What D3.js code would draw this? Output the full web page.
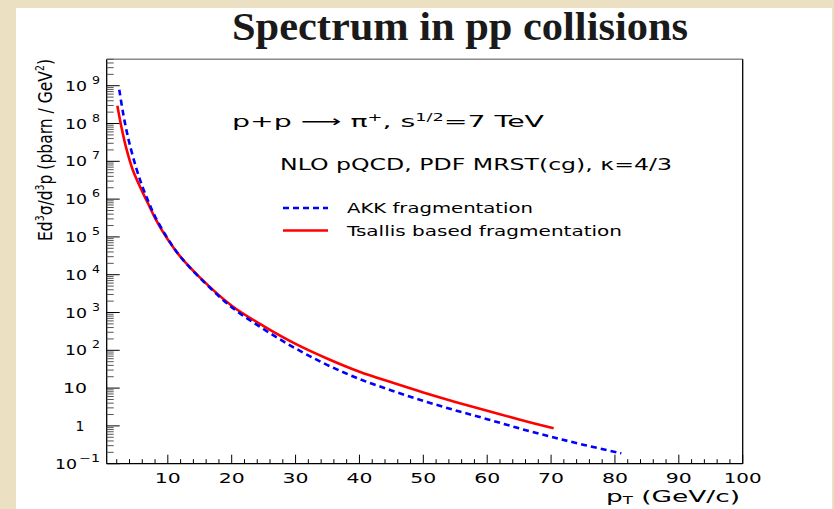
<!DOCTYPE html>
<html><head><meta charset="utf-8">
<script src="https://cdn.jsdelivr.net/npm/d3@7/dist/d3.min.js"></script>
<style>
html,body{margin:0;padding:0;background:#ebe1c2;}
svg{display:block;}
</style></head>
<body>
<script>
// ---- data ----
const pT_AKK = [2.4, 3, 3.5, 4, 5, 6, 7, 8, 10, 12, 15, 20, 25, 30, 35, 40, 45, 50, 55, 60, 65, 70, 75, 81];
const sigma_AKK = [7.8e8, 1.86e8, 6.9e7, 2.95e7, 7.1e6, 2.19e6, 8.3e5, 3.47e5, 8.9e4, 2.95e4, 8.3e3, 1.38e3, 363, 112, 40.7, 17.4, 8.67, 4.59, 2.59, 1.51, 0.863, 0.516, 0.319, 0.188];
const pT_Tsallis = [2.1, 2.75, 3.5, 4.5, 6, 7, 8, 10, 12, 15, 20, 25, 30, 35, 40, 45, 50, 55, 60, 65, 70.4];
const sigma_Tsallis = [2.95e8, 7.8e7, 2.19e7, 6.0e6, 1.58e6, 7.1e5, 3.16e5, 8.5e4, 2.95e4, 8.5e3, 1.51e3, 437, 148, 60, 27.2, 14.2, 7.67, 4.32, 2.51, 1.48, 0.865];
const xTicks = [10, 20, 30, 40, 50, 60, 70, 80, 90, 100];
const yExponents = [-1, 0, 1, 2, 3, 4, 5, 6, 7, 8, 9];
const legendLabels = ["AKK fragmentation", "Tsallis based fragmentation"];

const W = 834, H = 509;
const L = 106.7, R = 742.7, T = 59.3, B = 463.7;
const svg = d3.select("body").append("svg").attr("width", W).attr("height", H);
svg.append("rect").attr("width", W).attr("height", H).attr("fill", "#ebe1c2");
svg.append("rect").attr("x", 16).attr("y", 8).attr("width", 816).attr("height", H - 8).attr("fill", "#ffffff");

const x = d3.scaleLinear().domain([0.43, 100]).range([L, R]);
const y = d3.scaleLog().domain([0.1, 5e9]).range([B, T]);

const font = "'DejaVu Sans', sans-serif";

// Title
svg.append("text").attr("x", 232).attr("y", 40)
  .attr("font-family", "'Liberation Serif', serif").attr("font-weight", "bold")
  .attr("font-size", 39).attr("fill", "#1a1a1a")
  .attr("textLength", 456).attr("lengthAdjust", "spacingAndGlyphs")
  .text("Spectrum in pp collisions");

// frame
const g = svg.append("g");
g.append("line").attr("x1", L).attr("x2", R).attr("y1", T).attr("y2", T).attr("stroke", "#8a8a8a").attr("stroke-width", 1.5);
g.append("line").attr("x1", R).attr("x2", R).attr("y1", T).attr("y2", B).attr("stroke", "#000").attr("stroke-width", 1.3);
g.append("line").attr("x1", L).attr("x2", L).attr("y1", T).attr("y2", B).attr("stroke", "#000").attr("stroke-width", 1.3);
g.append("line").attr("x1", L).attr("x2", R).attr("y1", B).attr("y2", B).attr("stroke", "#000").attr("stroke-width", 1.3);

// x ticks
const xMinor = d3.range(2, 100, 2).filter(v => v % 10 !== 0);
g.selectAll(".xmin").data(xMinor).join("line")
  .attr("x1", d => x(d)).attr("x2", d => x(d)).attr("y1", B).attr("y2", B - 4.5)
  .attr("stroke", "#000").attr("stroke-width", 1);
g.selectAll(".xmaj").data(xTicks).join("line")
  .attr("x1", d => x(d)).attr("x2", d => x(d)).attr("y1", B).attr("y2", B - 9)
  .attr("stroke", "#000").attr("stroke-width", 1);
g.selectAll(".xlab").data(xTicks).join("text")
  .attr("x", d => x(d)).attr("y", 482.5).attr("text-anchor", "middle")
  .attr("font-family", font).attr("font-size", 13.5).attr("fill", "#000")
  .attr("textLength", d => d >= 100 ? 38 : 26).attr("lengthAdjust", "spacingAndGlyphs")
  .text(d => d);

// y ticks
const yMinor = [];
for (let e = -1; e <= 9; e++) for (let k = 2; k <= 9; k++) { const v = k * Math.pow(10, e); if (v <= 5e9) yMinor.push(v); }
g.selectAll(".ymin").data(yMinor).join("line")
  .attr("x1", L).attr("x2", L + 7).attr("y1", d => y(d)).attr("y2", d => y(d))
  .attr("stroke", "#555").attr("stroke-width", 1);
g.selectAll(".ymaj").data(yExponents).join("line")
  .attr("x1", L).attr("x2", L + 13).attr("y1", d => y(Math.pow(10, d))).attr("y2", d => y(Math.pow(10, d)))
  .attr("stroke", "#000").attr("stroke-width", 1);
yExponents.forEach(e => {
  const yy = y(Math.pow(10, e));
  if (e === 0) {
    svg.append("text").attr("x", 80).attr("y", yy + 5).attr("text-anchor", "middle")
      .attr("font-family", font).attr("font-size", 14).text("1");
  } else if (e === 1) {
    svg.append("text").attr("x", 63).attr("y", yy + 5)
      .attr("font-family", font).attr("font-size", 14)
      .attr("textLength", 24).attr("lengthAdjust", "spacingAndGlyphs").text("10");
  } else {
    const bx = e < 0 ? 55 : 65;
    svg.append("text").attr("x", bx).attr("y", yy + 5)
      .attr("font-family", font).attr("font-size", 14)
      .attr("textLength", 22).attr("lengthAdjust", "spacingAndGlyphs").text("10");
    svg.append("text").attr("x", e < 0 ? 79 : 92).attr("y", yy - 2)
      .attr("font-family", font).attr("font-size", 10)
      .attr("textLength", e < 0 ? 21 : 8).attr("lengthAdjust", "spacingAndGlyphs")
      .text(e < 0 ? "\u2212" + Math.abs(e) : e);
  }
});

// curves
svg.append("clipPath").attr("id", "clip").append("rect")
  .attr("x", L).attr("y", T).attr("width", R - L).attr("height", B - T);
const line = d3.line().x(d => x(d[0])).y(d => y(d[1])).curve(d3.curveCatmullRom.alpha(0.5));
const akk = pT_AKK.map((p, i) => [p, sigma_AKK[i]]);
const ts = pT_Tsallis.map((p, i) => [p, sigma_Tsallis[i]]);
svg.append("path").attr("d", line(ts)).attr("fill", "none")
  .attr("stroke", "#ff0000").attr("stroke-width", 2.6).attr("clip-path", "url(#clip)");
svg.append("path").attr("d", line(akk)).attr("fill", "none")
  .attr("stroke", "#0000ff").attr("stroke-width", 2.6).attr("stroke-dasharray", "6,4").attr("clip-path", "url(#clip)");

// annotations
const t1 = svg.append("text").attr("x", 232).attr("y", 127).attr("font-family", font).attr("font-size", 16).attr("fill", "#000");
t1.append("tspan").text("p+p \u27F6 \u03C0");
t1.append("tspan").attr("dy", -6).attr("font-size", 10).text("+");
t1.append("tspan").attr("dy", 6).text(", s");
t1.append("tspan").attr("dy", -6).attr("font-size", 10).text("1/2");
t1.append("tspan").attr("dy", 6).text("=7 TeV");
t1.attr("textLength", 312).attr("lengthAdjust", "spacingAndGlyphs");

svg.append("text").attr("x", 280).attr("y", 170).attr("font-family", font).attr("font-size", 15)
  .attr("textLength", 392).attr("lengthAdjust", "spacingAndGlyphs")
  .text("NLO pQCD, PDF MRST(cg), \u03BA=4/3");

// legend
svg.append("line").attr("x1", 283).attr("x2", 328).attr("y1", 208).attr("y2", 208)
  .attr("stroke", "#0000ff").attr("stroke-width", 2.6).attr("stroke-dasharray", "6,4");
svg.append("line").attr("x1", 283).attr("x2", 328).attr("y1", 230.5).attr("y2", 230.5)
  .attr("stroke", "#ff0000").attr("stroke-width", 2.6);
svg.append("text").attr("x", 347).attr("y", 213).attr("font-family", font).attr("font-size", 14)
  .attr("textLength", 186).attr("lengthAdjust", "spacingAndGlyphs").text(legendLabels[0]);
svg.append("text").attr("x", 347).attr("y", 235.5).attr("font-family", font).attr("font-size", 14)
  .attr("textLength", 275).attr("lengthAdjust", "spacingAndGlyphs").text(legendLabels[1]);

// x axis title
const xt = svg.append("text").attr("x", 740).attr("y", 502).attr("text-anchor", "end")
  .attr("font-family", font).attr("font-size", 16);
xt.append("tspan").text("p");
xt.append("tspan").attr("dy", 2).attr("font-size", 10).text("T");
xt.append("tspan").attr("dy", -2).text(" (GeV/c)");
xt.attr("textLength", 134).attr("lengthAdjust", "spacingAndGlyphs");

// y axis title
const yt = svg.append("text").attr("transform", "translate(52,150) rotate(-90)")
  .attr("text-anchor", "middle").attr("font-family", font).attr("font-size", 20);
yt.append("tspan").text("Ed");
yt.append("tspan").attr("dy", -8).attr("font-size", 12).text("3");
yt.append("tspan").attr("dy", 8).text("\u03C3/d");
yt.append("tspan").attr("dy", -8).attr("font-size", 12).text("3");
yt.append("tspan").attr("dy", 8).text("p (pbarn / GeV");
yt.append("tspan").attr("dy", -8).attr("font-size", 12).text("2");
yt.append("tspan").attr("dy", 8).text(")");
yt.attr("textLength", 182).attr("lengthAdjust", "spacingAndGlyphs");
</script>
</body></html>
